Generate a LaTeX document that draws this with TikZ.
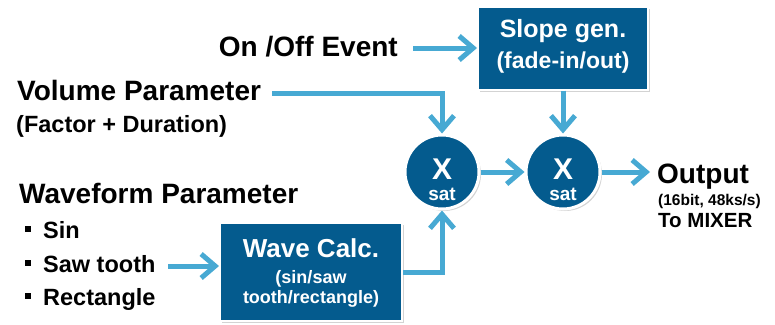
\documentclass[tikz,border=0pt]{standalone}
\usepackage{fontspec}
\setmainfont{Liberation Sans}
\usetikzlibrary{arrows.meta,shadows}
\definecolor{boxblue}{HTML}{045B8E}
\definecolor{flowblue}{HTML}{47A9D3}

\newcommand{\fs}[1]{\bfseries\fontsize{#1}{#1}\selectfont}
\newcommand{\sqbullet}{\rule[6pt]{6pt}{6pt}\hspace{12pt}}

\begin{document}
\begin{tikzpicture}[x=1pt,y=-1pt,
  flow/.style={draw=flowblue,line width=5pt,
    -{Straight Barb[length=14pt,width=24pt]}},
  block/.style={rectangle,fill=boxblue,draw=white,line width=2pt,
    inner sep=0pt,
    drop shadow={opacity=0.35,shadow xshift=2pt,shadow yshift=-2pt}},
  mult/.style={circle,fill=boxblue,draw=white,line width=3pt,
    inner sep=0pt,minimum size=74pt,
    drop shadow={opacity=0.35,shadow xshift=2pt,shadow yshift=-2pt}},
  lbl/.style={inner sep=0pt},
  wlbl/.style={inner sep=0pt,text=white},
]
\useasboundingbox (0,0) rectangle (775,324);

% processing blocks
\node[block,minimum width=170pt,minimum height=83pt] (slope) at (563,48) {};
\node[block,minimum width=182pt,minimum height=98pt] (wave) at (311,272) {};
\node[mult] (m1) at (442,172) {};
\node[mult] (m2) at (563,172) {};

% block captions
\node[wlbl,anchor=base,font=\fs{25}] (slopeT) at (563,37) {Slope gen.};
\node[wlbl,anchor=base,font=\fs{23}] (slopeS) at (563,68) {(fade-in/out)};
\node[wlbl,anchor=base,font=\fs{26}] (waveT) at (311,257) {Wave Calc.};
\node[wlbl,anchor=base,font=\fs{18}] (waveS1) at (311,283) {(sin/saw};
\node[wlbl,anchor=base,font=\fs{18}] (waveS2) at (311,303) {tooth/rectangle)};
\foreach \m in {m1,m2}{
  \node[wlbl,anchor=base,font=\fs{30}] at ([yshift=-7pt]\m.center) {X};
  \node[wlbl,anchor=base,font=\fs{19}] at ([yshift=-28pt]\m.center) {sat};
}

% inputs and output
\node[lbl,anchor=base east,font=\fs{28}] (onoff) at (398,56) {On /Off Event};
\node[lbl,anchor=base west,font=\fs{28}] (vol) at (17,100) {Volume Parameter};
\node[lbl,anchor=base west,font=\fs{23.5}] (volS) at (16,132) {(Factor + Duration)};
\node[lbl,anchor=base west,font=\fs{28}] (wf) at (19,203) {Waveform Parameter};
\node[lbl,anchor=base west,font=\fs{23.5}] (b1) at (25,238) {\sqbullet Sin};
\node[lbl,anchor=base west,font=\fs{23.5}] (b2) at (25,272) {\sqbullet Saw tooth};
\node[lbl,anchor=base west,font=\fs{23.5}] (b3) at (25,305) {\sqbullet Rectangle};
\node[lbl,anchor=base west,font=\fs{28}] (out) at (657,183) {Output};
\node[lbl,anchor=base west,font=\fs{15.5}] (outS) at (658,205) {(16bit, 48ks/s)};
\node[lbl,anchor=base west,font=\fs{20.5}] (outM) at (658,227) {To MIXER};

% free ends of the connectors
\coordinate (onoffE) at (413,48);
\coordinate (volE) at (272,93);
\coordinate (sawE) at (168,266);
\coordinate (waveE) at (403,272);
\coordinate (outW) at (650,172);

% signal flow
\draw[flow] (onoffE) -- (onoffE -| slope.west);
\draw[flow] (volE) -| (m1.north);
\draw[flow] (slope.south) -- (m2.north);
\draw[flow] (sawE) -- (sawE -| wave.west);
\draw[flow] (waveE) -| (m1.south);
\draw[flow] (m1.east) -- (m2.west);
\draw[flow] (m2.east) -- (outW);
\end{tikzpicture}
\end{document}
